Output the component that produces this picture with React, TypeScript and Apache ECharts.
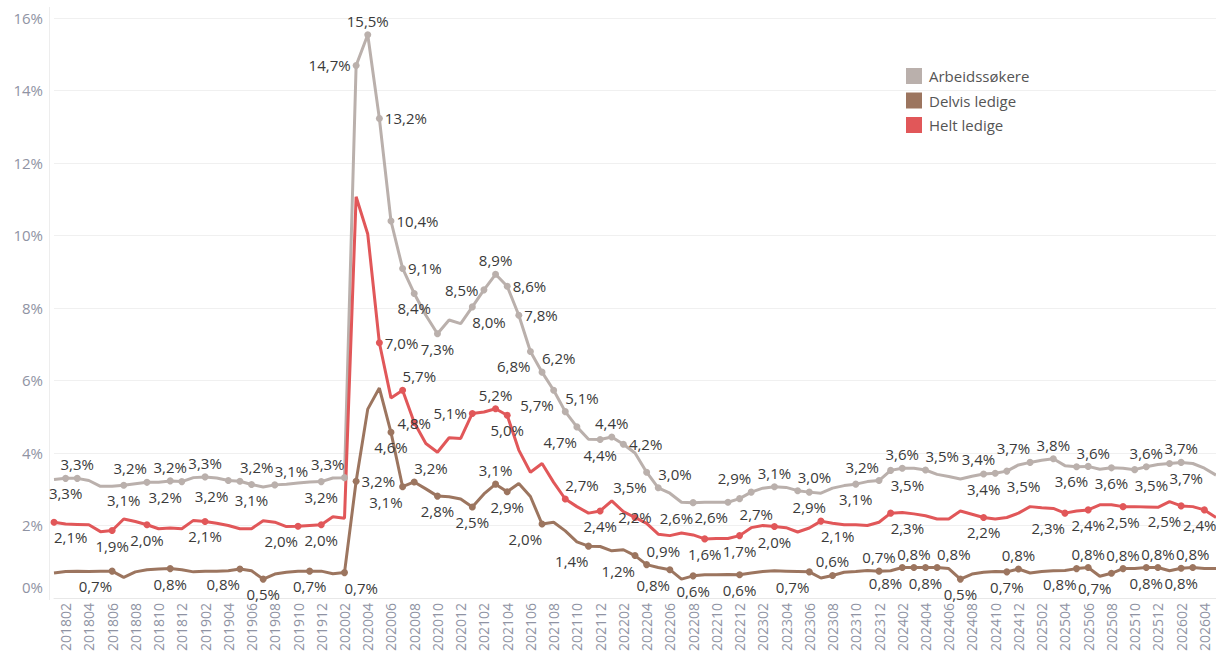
import React, { useEffect, useRef } from "react";
import * as echarts from "echarts";

const MONTHS: string[] = [
  "201801","201802","201803","201804","201805","201806","201807","201808","201809","201810","201811","201812",
  "201901","201902","201903","201904","201905","201906","201907","201908","201909","201910","201911","201912",
  "202001","202002","202003","202004","202005","202006","202007","202008","202009","202010","202011","202012",
  "202101","202102","202103","202104","202105","202106","202107","202108","202109","202110","202111","202112",
  "202201","202202","202203","202204","202205","202206","202207","202208","202209","202210","202211","202212",
  "202301","202302","202303","202304","202305","202306","202307","202308","202309","202310","202311","202312",
  "202401","202402","202403","202404","202405","202406","202407","202408","202409","202410","202411","202412",
  "202501","202502","202503","202504","202505","202506","202507","202508","202509","202510","202511","202512",
  "202601","202602","202603","202604","202605",
];

const Y_TICKS = [0, 2, 4, 6, 8, 10, 12, 14, 16];

const ARBEIDSSOKERE: number[] = [
  3.27, 3.30, 3.30, 3.24, 3.08, 3.08, 3.11, 3.15, 3.19, 3.19, 3.23, 3.21,
  3.32, 3.34, 3.31, 3.24, 3.22, 3.13, 3.06, 3.12, 3.14, 3.17, 3.20, 3.21,
  3.31, 3.32, 14.69, 15.54, 13.23, 10.4, 9.09, 8.4, 7.8, 7.29, 7.67, 7.57,
  8.03, 8.5, 8.93, 8.6, 7.8, 6.8, 6.23, 5.73, 5.14, 4.72, 4.38, 4.37,
  4.44, 4.24, 4.0, 3.47, 3.04, 2.89, 2.64, 2.63, 2.64, 2.64, 2.64, 2.74,
  2.92, 3.03, 3.07, 3.05, 2.96, 2.92, 2.89, 3.03, 3.10, 3.14, 3.21, 3.24,
  3.52, 3.58, 3.58, 3.53, 3.41, 3.35, 3.28, 3.36, 3.42, 3.44, 3.5, 3.67,
  3.74, 3.80, 3.84, 3.65, 3.62, 3.63, 3.55, 3.59, 3.58, 3.54, 3.62, 3.68,
  3.71, 3.74, 3.71, 3.58, 3.39,
];

const DELVIS_LEDIGE: number[] = [
  0.69, 0.73, 0.74, 0.73, 0.74, 0.74, 0.57, 0.72, 0.78, 0.80, 0.81, 0.78,
  0.72, 0.74, 0.74, 0.75, 0.8, 0.75, 0.52, 0.66, 0.71, 0.74, 0.74, 0.74,
  0.67, 0.7, 3.22, 5.21, 5.79, 4.57, 3.07, 3.2, 3.01, 2.81, 2.79, 2.73,
  2.51, 2.87, 3.14, 2.93, 3.16, 2.80, 2.04, 2.09, 1.85, 1.55, 1.43, 1.42,
  1.30, 1.33, 1.17, 0.92, 0.84, 0.78, 0.52, 0.61, 0.64, 0.64, 0.65, 0.64,
  0.69, 0.73, 0.75, 0.74, 0.73, 0.72, 0.55, 0.62, 0.71, 0.73, 0.76, 0.74,
  0.75, 0.84, 0.84, 0.84, 0.84, 0.81, 0.52, 0.66, 0.71, 0.73, 0.72, 0.8,
  0.69, 0.73, 0.75, 0.76, 0.81, 0.84, 0.6, 0.68, 0.81, 0.81, 0.84, 0.84,
  0.75, 0.82, 0.84, 0.81, 0.81,
];

const HELT_LEDIGE: number[] = [
  2.09, 2.04, 2.03, 2.02, 1.83, 1.86, 2.18, 2.11, 2.02, 1.91, 1.93, 1.91,
  2.14, 2.11, 2.06, 2.0, 1.91, 1.91, 2.13, 2.09, 1.97, 1.98, 2.0, 2.02,
  2.24, 2.2, 11.07, 10.04, 7.04, 5.52, 5.73, 4.84, 4.26, 4.02, 4.42, 4.40,
  5.09, 5.13, 5.22, 5.04, 4.08, 3.47, 3.71, 3.19, 2.73, 2.52, 2.34, 2.40,
  2.68, 2.38, 2.22, 2.06, 1.76, 1.72, 1.79, 1.74, 1.63, 1.64, 1.64, 1.72,
  1.94, 2.00, 1.97, 1.94, 1.82, 1.93, 2.12, 2.06, 2.02, 2.02, 2.0, 2.09,
  2.34, 2.36, 2.32, 2.27, 2.18, 2.18, 2.40, 2.31, 2.22, 2.18, 2.22, 2.34,
  2.52, 2.49, 2.47, 2.34, 2.40, 2.43, 2.57, 2.57, 2.52, 2.52, 2.51, 2.50,
  2.66, 2.54, 2.52, 2.43, 2.22,
];

// label placement (index, side) for the labelled points
type Side = "t" | "b" | "l" | "r" | "tl" | "tr" | "bl" | "br" | "c" | "be";
const ARB_LABELS: [number, Side][] = [
  [1, "b"], [2, "t"], [6, "b"], [8, "tl"], [10, "t"], [11, "bl"], [13, "t"], [15, "bl"], [16, "tr"],
  [17, "b"], [19, "tr"], [23, "b"], [25, "tl"], [26, "l"], [27, "t"], [28, "r"], [29, "r"], [30, "r"],
  [31, "b"], [33, "b"], [36, "br"], [37, "l"], [38, "t"], [39, "r"], [40, "r"], [41, "bl"], [42, "tr"],
  [43, "bl"], [44, "tr"], [45, "bl"], [47, "b"], [48, "t"], [49, "r"], [51, "bl"], [52, "tr"], [55, "bl"],
  [58, "bl"], [59, "br"], [60, "tl"], [62, "t"], [64, "tr"], [65, "b"], [69, "b"], [71, "tl"], [72, "br"],
  [73, "t"], [75, "tr"], [80, "b"], [81, "tl"], [82, "br"], [84, "tl"], [86, "t"], [88, "tr"], [89, "bl"],
  [91, "b"], [93, "br"], [94, "t"], [96, "br"], [97, "t"],
];
const HELT_LABELS: [number, Side][] = [
  [0, "br"], [5, "b"], [8, "b"], [13, "b"], [21, "bl"], [23, "b"], [28, "r"], [30, "tr"], [31, "c"],
  [36, "l"], [38, "t"], [39, "b"], [44, "tr"], [47, "b"], [50, "c"], [56, "b"], [59, "b"], [62, "b"],
  [66, "br"], [72, "br"], [80, "b"], [87, "bl"], [89, "b"], [92, "b"], [97, "bl"], [99, "be"],
];
const DELVIS_LABELS: [number, Side][] = [
  [5, "bl"], [10, "b"], [16, "bl"], [18, "b"], [22, "b"], [25, "br"], [26, "r"], [29, "b"], [30, "bl"],
  [31, "tr"], [33, "b"], [36, "b"], [38, "t"], [39, "b"], [42, "bl"], [46, "bl"], [50, "bl"], [51, "tr"],
  [53, "bl"], [55, "b"], [59, "b"], [65, "bl"], [67, "t"], [71, "t"], [73, "bl"], [74, "t"], [75, "b"],
  [76, "tr"], [78, "b"], [82, "b"], [83, "t"], [88, "bl"], [89, "t"], [91, "bl"], [92, "t"], [94, "b"],
  [95, "t"], [97, "b"], [98, "t"],
];

const FONT = "'Open Sans', 'Noto Sans', sans-serif";
const fmt = (v: number) => v.toFixed(1).replace(".", ",") + "%";

function labelFor(side: Side): any {
  const base: any = { show: true, formatter: (p: any) => fmt(p.value), color: "#3a3a3a", fontSize: 15, fontFamily: FONT };
  switch (side) {
    case "t": return { ...base, position: "top", distance: 3 };
    case "b": return { ...base, position: "bottom", distance: 4 };
    case "l": return { ...base, position: "left", distance: 2 };
    case "r": return { ...base, position: "right", distance: 2 };
    case "tl": return { ...base, position: "top", distance: 3, align: "right" };
    case "tr": return { ...base, position: "top", distance: 3, align: "left" };
    case "bl": return { ...base, position: "bottom", distance: 4, align: "right" };
    case "br": return { ...base, position: "bottom", distance: 4, align: "left" };
    case "be": return { ...base, position: "bottom", distance: 4, align: "right", offset: [12, 0] };
    case "c": return { ...base, position: "inside" };
  }
}

function buildData(values: number[], labels: [number, Side][]) {
  const m = new Map<number, Side>(labels);
  return values.map((v, i) => {
    const side = m.get(i);
    if (!side) return { value: v, symbolSize: 0, label: { show: false } };
    return { value: v, symbolSize: 7, label: labelFor(side) };
  });
}

export default function App() {
  const ref = useRef<HTMLDivElement>(null);
  useEffect(() => {
    if (!ref.current) return;
    const chart = echarts.init(ref.current, undefined, { renderer: "svg" });
    const mk = (name: string, color: string, values: number[], labels: [number, Side][]) => ({
      name,
      type: "line",
      data: buildData(values, labels),
      symbol: "circle",
      showSymbol: true,
      showAllSymbol: true,
      lineStyle: { color, width: 3 },
      itemStyle: { color },
      emphasis: { disabled: true },
    });
    chart.setOption({
      animation: false,
      backgroundColor: "#ffffff",
      textStyle: { fontFamily: FONT },
      grid: { left: 54, right: 0, top: 18, bottom: 54, containLabel: false },
      legend: {
        orient: "vertical",
        left: 901,
        top: 63,
        itemWidth: 16,
        itemHeight: 16,
        itemGap: 8.5,
        icon: "rect",
        textStyle: { color: "#555555", fontSize: 15, fontFamily: FONT, padding: [0, 0, 0, 2] },
        data: ["Arbeidssøkere", "Delvis ledige", "Helt ledige"],
      },
      xAxis: {
        type: "category",
        data: MONTHS,
        boundaryGap: false,
        axisLine: { show: true, lineStyle: { color: "#e8e8e8", width: 1 } },
        axisTick: { show: false },
        splitLine: { show: false },
        axisLabel: {
          rotate: 90,
          interval: (index: number) => index % 2 === 1,
          color: "#8f93a3",
          fontSize: 14,
          fontFamily: FONT,
          margin: 5,
        },
      },
      yAxis: {
        type: "value",
        min: Y_TICKS[0],
        max: Y_TICKS[Y_TICKS.length - 1],
        interval: 2,
        axisLine: { show: false },
        axisTick: { show: false },
        splitLine: { show: true, lineStyle: { color: "#f0f0f0", width: 1 } },
        axisLabel: {
          margin: 11,
          color: "#8f93a3",
          fontSize: 15,
          fontFamily: FONT,
          formatter: (v: number) => (v === 0 ? "{z|0%}" : v + "%"),
          rich: { z: { color: "#8f93a3", fontSize: 15, fontFamily: FONT, padding: [0, 0, 22, 0] } },
        },
      },
      graphic: [
        { type: "line", shape: { x1: 49.5, y1: 7, x2: 49.5, y2: 600 }, style: { stroke: "#ededed", lineWidth: 1 }, silent: true },
      ],
      series: [
        mk("Arbeidssøkere", "#bab0ac", ARBEIDSSOKERE, ARB_LABELS),
        mk("Delvis ledige", "#9c755f", DELVIS_LEDIGE, DELVIS_LABELS),
        mk("Helt ledige", "#e15759", HELT_LEDIGE, HELT_LABELS),
      ],
    });
    return () => chart.dispose();
  }, []);
  return (
    <div
      ref={ref}
      style={{ position: "fixed", left: 0, top: 0, width: 1216, height: 654, background: "#fff" }}
    />
  );
}
